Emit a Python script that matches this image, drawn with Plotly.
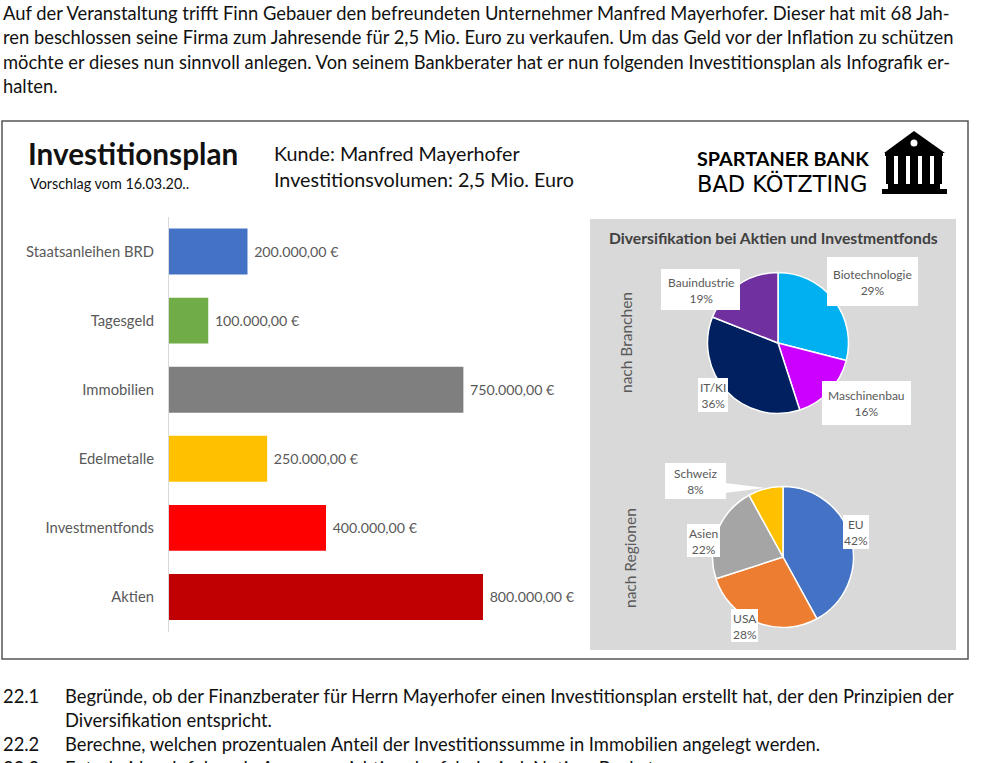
import plotly.graph_objects as go

W, H = 982, 763
bar_categories = ["Staatsanleihen BRD", "Tagesgeld", "Immobilien", "Edelmetalle", "Investmentfonds", "Aktien"]
bar_values = [200000, 100000, 750000, 250000, 400000, 800000]
bar_colors = ["#4472c4", "#70ad47", "#7f7f7f", "#ffc000", "#ff0000", "#c00000"]
branch_labels = ["Biotechnologie", "Maschinenbau", "IT/KI", "Bauindustrie"]
branch_values = [29, 16, 36, 19]
branch_colors = ["#00b0f0", "#cc00ff", "#002060", "#7030a0"]
region_labels = ["EU", "USA", "Asien", "Schweiz"]
region_values = [42, 28, 22, 8]
region_colors = ["#4472c4", "#ed7d31", "#a5a5a5", "#ffc000"]
intro_lines = [
    "Auf der Veranstaltung trifft Finn Gebauer den befreundeten Unternehmer Manfred Mayerhofer. Dieser hat mit 68 Jah-",
    "ren beschlossen seine Firma zum Jahresende für 2,5 Mio. Euro zu verkaufen. Um das Geld vor der Inflation zu schützen",
    "möchte er dieses nun sinnvoll anlegen. Von seinem Bankberater hat er nun folgenden Investitionsplan als Infografik er-",
    "halten.",
]
FONT = "Lato"
GREY = "#595959"
BODY = 18.35

def px(x): return x / W
def py(y): return 1 - y / H

def eur(v):
    return f"{v:,.2f}".replace(",", "X").replace(".", ",").replace("X", ".") + " €"

shapes, annotations = [], []

def rect(x0, y0, x1, y1, fill="white", line=None, lw=0, layer="above"):
    shapes.append(dict(type="rect", xref="paper", yref="paper", x0=px(x0), x1=px(x1), y0=py(y1), y1=py(y0),
                       fillcolor=fill, line=dict(color=line or fill, width=lw), layer=layer))

def text(x, y, s, size, color="#111111", anchor="left", bold=False, angle=0, family=FONT):
    if bold:
        s = f"<b>{s}</b>"
    annotations.append(dict(xref="paper", yref="paper", x=px(x), y=py(y), text=s, showarrow=False, xanchor=anchor,
                            yanchor="middle", textangle=angle, font=dict(family=family, size=size, color=color)))

def poly(points, fill):
    d = "M" + " L".join(f"{px(a):.5f},{py(b):.5f}" for a, b in points) + " Z"
    shapes.append(dict(type="path", xref="paper", yref="paper", path=d, fillcolor=fill, line=dict(width=0), layer="above"))

def label(x0, y0, x1, y1, name, value):
    rect(x0, y0, x1, y1)
    annotations.append(dict(xref="paper", yref="paper", x=px((x0 + x1) / 2), y=py((y0 + y1) / 2 + 0.5), text=f"{name}<br>{value}%",
                            showarrow=False, xanchor="center", yanchor="middle", align="center",
                            font=dict(family=FONT, size=12, color=GREY)))

# frame and panel
rect(2, 121, 968, 659, fill="white", line="#555555", lw=1.5, layer="below")
rect(590, 219, 956, 650, fill="#d9d9d9", layer="below")

# surrounding text
for i, line in enumerate(intro_lines):
    text(1, 13 + i * 24.3, line, BODY)
text(26, 153, "Investitionsplan", 29.7, bold=True)
text(28, 183, "Vorschlag vom 16.03.20..", 14.4)
text(272, 153, "Kunde: Manfred Mayerhofer", 19.7)
text(272, 179, "Investitionsvolumen: 2,5 Mio. Euro", 19.7)
text(695, 158, "SPARTANER BANK", 19.8, color="#000000", bold=True)
text(695, 184, "BAD KÖTZTING", 22.5, color="#000000", family="DejaVu Sans")
text(773.5, 238, "Diversifikation bei Aktien und Investmentfonds", 15.7, color="#404040", anchor="center", bold=True)
text(626, 343, "nach Branchen", 15.5, color=GREY, anchor="center", angle=-90)
text(630, 558, "nach Regionen", 15.5, color=GREY, anchor="center", angle=-90)
text(1, 696, "22.1", BODY)
text(63, 696, "Begründe, ob der Finanzberater für Herrn Mayerhofer einen Investitionsplan erstellt hat, der den Prinzipien der", BODY)
text(63, 720, "Diversifikation entspricht.", BODY)
text(1, 744, "22.2", BODY)
text(63, 744, "Berechne, welchen prozentualen Anteil der Investitionssumme in Immobilien angelegt werden.", BODY)
text(1, 768, "22.3", BODY)
text(63, 768, "Entscheide, ob folgende Aussagen richtig oder falsch sind. Notiere Buchst.", BODY)

# bank icon
poly([(914, 131), (945, 153), (884, 153)], "#000000")
rect(885, 153, 943, 156, fill="#000000")
for cx in (890, 902, 914, 926, 938):
    rect(cx - 4, 156, cx + 4, 184, fill="#000000")
rect(888, 184, 940, 189, fill="#000000")
rect(882, 189, 947, 194, fill="#000000")
shapes.append(dict(type="circle", xref="paper", yref="paper", x0=px(910.5), x1=px(917.5), y0=py(146.5), y1=py(139.5), fillcolor="white", line=dict(width=0), layer="above"))

# pie labels
label(827, 257, 918, 306, branch_labels[0], branch_values[0])
label(822, 381, 911, 425, branch_labels[1], branch_values[1])
label(698, 378, 728, 412, branch_labels[2], branch_values[2])
label(661, 269, 740, 310, branch_labels[3], branch_values[3])
poly([(725, 483), (765, 488), (725, 493)], "white")
label(843, 515, 869, 549, region_labels[0], region_values[0])
label(731, 609, 758, 642, region_labels[1], region_values[1])
label(687, 524, 720, 557, region_labels[2], region_values[2])
label(665, 463, 726, 499, region_labels[3], region_values[3])

fig = go.Figure()
fig.add_bar(
    y=bar_categories, x=bar_values, orientation="h", marker=dict(color=bar_colors, line=dict(width=0)),
    text=["\u00a0" + eur(v) for v in bar_values], textposition="outside", cliponaxis=False, width=0.665,
    textfont=dict(family=FONT, size=14.2, color=GREY), hoverinfo="skip", showlegend=False,
)

def pie(labels, values, colors, cx, cy, r):
    fig.add_pie(
        labels=labels, values=values, sort=False, direction="clockwise", rotation=0, textinfo="none",
        marker=dict(colors=colors, line=dict(color="white", width=1.5)), showlegend=False,
        domain=dict(x=[px(cx - r), px(cx + r)], y=[py(cy + r), py(cy - r)]), hoverinfo="skip",
    )

pie(branch_labels, branch_values, branch_colors, 778, 343, 70.5)
pie(region_labels, region_values, region_colors, 783, 557, 70.5)

fig.update_layout(
    width=W, height=H, margin=dict(l=0, r=0, t=0, b=0), paper_bgcolor="white", plot_bgcolor="rgba(0,0,0,0)",
    shapes=shapes, annotations=annotations, font=dict(family=FONT),
    xaxis=dict(domain=[px(169), px(583)], range=[0, 414 / 0.0003925], visible=False, fixedrange=True),
    yaxis=dict(domain=[py(631.5), py(217)], autorange="reversed", showgrid=False, zeroline=False, ticks="",
               showline=True, linecolor="#d9d9d9", linewidth=1, ticklabelstandoff=11,
               tickfont=dict(family=FONT, size=14.8, color=GREY), fixedrange=True),
)
fig.write_html("out.html", config=dict(displayModeBar=False),
               post_script="document.body.style.margin='0';document.body.style.overflow='hidden';")
